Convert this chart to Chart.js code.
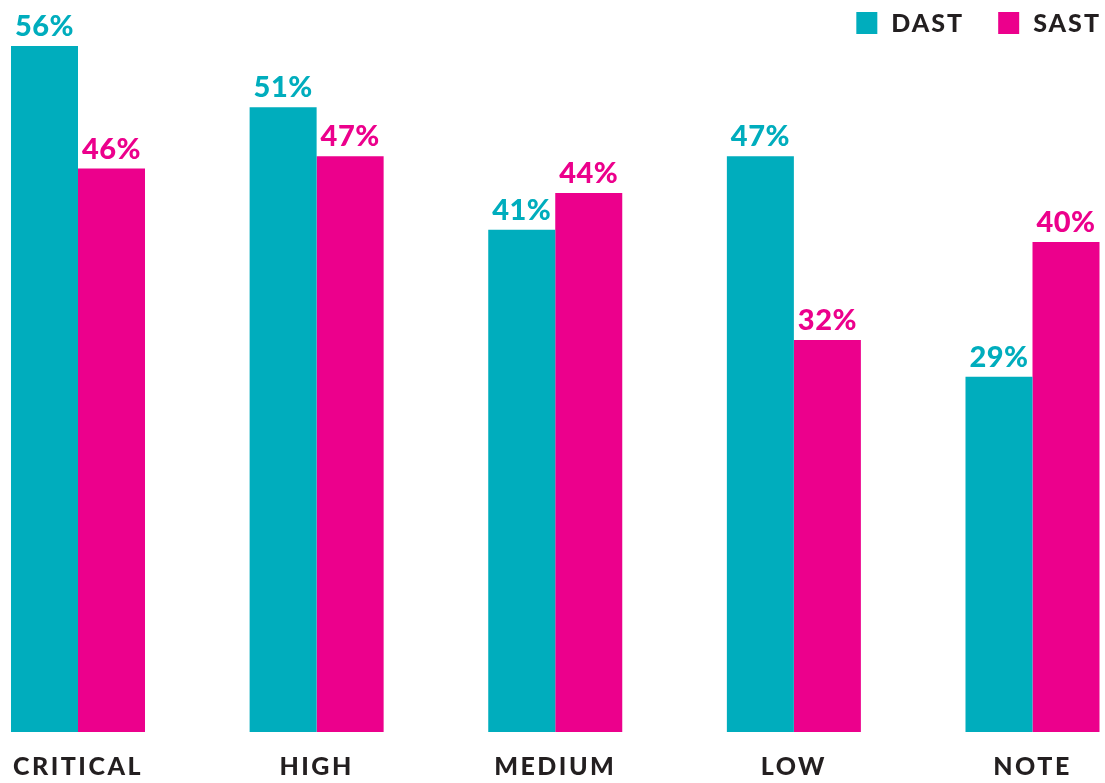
<!DOCTYPE html>
<html>
<head>
<meta charset="utf-8">
<script src="https://cdn.jsdelivr.net/npm/chart.js@4.4.1/dist/chart.umd.min.js"></script>
<style>
  html, body { margin: 0; padding: 0; background: #fff; overflow: hidden; }
  #wrap { width: 1105px; height: 783px; position: relative; }
</style>
</head>
<body>
<div id="wrap"><canvas id="chart"></canvas></div>
<script>
// severity categories
const categories = ['CRITICAL', 'HIGH', 'MEDIUM', 'LOW', 'NOTE'];
const dastValues = [56, 51, 41, 47, 29];
const sastValues = [46, 47, 44, 32, 40];
const seriesNames = ['DAST', 'SAST'];
const seriesColors = ['#00adbd', '#ec008c'];
const textColor = '#231f20';
const fontFamily = 'Lato, "Open Sans", sans-serif';

// value labels above each bar
const valueLabels = {
    id: 'valueLabels',
    afterDatasetsDraw(chart) {
        const ctx = chart.ctx;
        ctx.save();
        ctx.letterSpacing = '0.5px';
        ctx.font = '900 29px ' + fontFamily;
        ctx.textAlign = 'center';
        ctx.textBaseline = 'alphabetic';
        chart.data.datasets.forEach((ds, i) => {
            const meta = chart.getDatasetMeta(i);
            ctx.fillStyle = ds.backgroundColor;
            meta.data.forEach((bar, j) => {
                ctx.fillText(ds.data[j] + '%', bar.x, bar.y - 10);
            });
        });
        ctx.restore();
    }
};

// legend in top right corner
const cornerLegend = {
    id: 'cornerLegend',
    afterDraw(chart) {
        const ctx = chart.ctx;
        ctx.save();
        ctx.font = '900 25px ' + fontFamily;
        ctx.letterSpacing = '2px';
        ctx.textBaseline = 'middle';
        ctx.textAlign = 'left';
        let x = chart.width - 6;
        const y = 23;
        for (let i = seriesNames.length - 1; i >= 0; i--) {
            const w = ctx.measureText(seriesNames[i]).width - 2;
            x -= w;
            ctx.fillStyle = textColor;
            ctx.fillText(seriesNames[i], x, y + 1);
            x -= 14 + 21;
            ctx.fillStyle = seriesColors[i];
            ctx.fillRect(x, y - 11, 21, 22);
            x -= 36;
        }
        ctx.restore();
    }
};

const tickSpacing = {
    id: 'tickSpacing',
    beforeDraw(chart) { chart.ctx.letterSpacing = '2.5px'; },
    afterDraw(chart) { chart.ctx.letterSpacing = '0px'; }
};

new Chart(document.getElementById('chart'), {
    type: 'bar',
    data: {
        labels: categories,
        datasets: [
            { label: seriesNames[0], data: dastValues, backgroundColor: seriesColors[0] },
            { label: seriesNames[1], data: sastValues, backgroundColor: seriesColors[1] }
        ]
    },
    options: {
        responsive: true,
        maintainAspectRatio: false,
        animation: false,
        events: [],
        layout: { padding: { left: 78, right: 72.5, top: 46, bottom: 0 } },
        datasets: {
            bar: { categoryPercentage: 0.5616, barPercentage: 1, clip: false }
        },
        plugins: {
            legend: { display: false },
            tooltip: { enabled: false }
        },
        scales: {
            x: {
                offset: false,
                grid: { display: false },
                border: { display: false },
                ticks: {
                    color: textColor,
                    font: { family: fontFamily, size: 25, weight: '900' },
                    padding: 12,
                    maxRotation: 0,
                    autoSkip: false
                },
                afterFit(scale) { scale.height = 51; }
            },
            y: {
                display: false,
                min: 0,
                max: 56
            }
        }
    },
    plugins: [tickSpacing, valueLabels, cornerLegend]
});
</script>
</body>
</html>
